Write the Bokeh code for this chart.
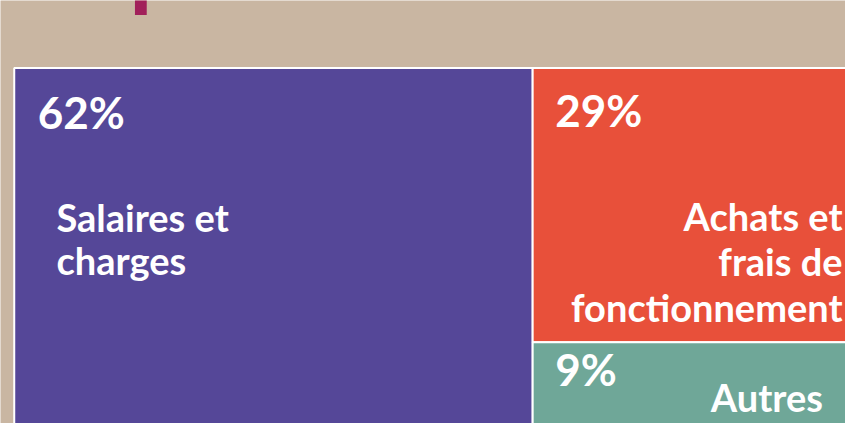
from bokeh.plotting import figure
from bokeh.models import Range1d, ColumnDataSource
from bokeh.core.properties import value
from bokeh.embed import file_html
from bokeh.resources import INLINE

# ---- data ----
categories = ["Salaires et\ncharges", "Achats et\nfrais de\nfonctionnement", "Autres"]
shares = [62, 29, 9]
pct_labels = ["62%", "29%", "9%"]
colors = ["#554798", "#E8503A", "#6FA798"]

BG = "#C9B6A2"

# ---- treemap layout (screen-like coords, y grows downward) ----
X0, X1, Y0, Y1 = 14.0, 866.0, 70.0, 443.0
total = float(sum(shares))
left_w = (X1 - X0) * shares[0] / total
xa = X0 + left_w
rest = total - shares[0]
yb = Y0 + (Y1 - Y0) * shares[1] / rest
rects = [
    (X0, xa, Y0, Y1),
    (xa, X1, Y0, yb),
    (xa, X1, yb, Y1),
]

p = figure(width=845, height=423, output_backend="svg", toolbar_location=None,
           x_range=Range1d(0, 861), y_range=Range1d(439, 0),
           min_border=0, background_fill_color=BG, border_fill_color=BG)
p.axis.visible = False
p.grid.visible = False
p.outline_line_color = None

# decorative bar from element above
p.quad(left=[137], right=[149], top=[-5], bottom=[15], fill_color="#A1205A", line_color=None)

src = ColumnDataSource(dict(
    left=[r[0] for r in rects], right=[r[1] for r in rects],
    top=[r[2] for r in rects], bottom=[r[3] for r in rects], color=colors))
p.quad(left="left", right="right", top="top", bottom="bottom", source=src,
       fill_color="color", line_color="white", line_width=2)

PCT_FS = 44
LAB_FS = 38
# percent labels (baseline offsets from rect top, corrected for renderer baseline shift)
pct_dx = [24, 23, 23]
pct_dy = [63, 61, 45]
shift_p = 0.4 * PCT_FS
p.text(x=[rects[i][0] + pct_dx[i] for i in range(3)],
       y=[rects[i][2] + pct_dy[i] - shift_p for i in range(3)],
       text=pct_labels, text_color="white", text_font=value("Lato"),
       text_font_style="bold", text_font_size=f"{PCT_FS}px",
       text_align="left", text_baseline="alphabetic")

# category labels, line by line
line_h = [44, 47, 47]
first_base = [240, 239, 427]
anchors = [(X0 + 43, "left"), (858, "right"), (838, "right")]
shift_l = 0.4 * LAB_FS
for i, lab in enumerate(categories):
    lines = lab.split("\n")
    ax, al = anchors[i]
    p.text(x=[ax] * len(lines),
           y=[first_base[i] - shift_l + k * line_h[i] for k in range(len(lines))],
           text=lines, text_color="white", text_font=value("Lato"),
           text_font_style="bold", text_font_size=f"{LAB_FS}px",
           text_align=al, text_baseline="alphabetic")

open("out.html", "w").write(file_html(p, INLINE))
